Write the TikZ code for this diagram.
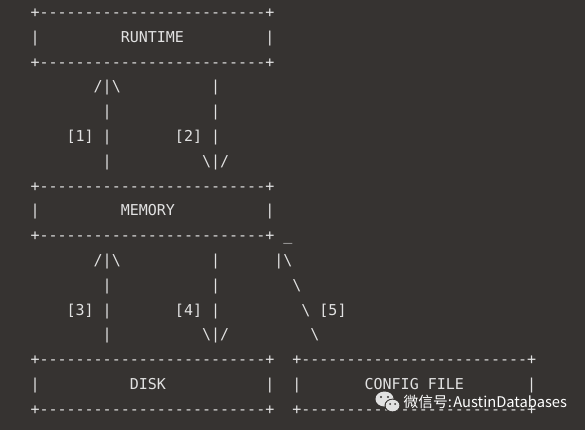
\documentclass[tikz,border=0pt]{standalone}
\usepackage{fontspec}
\setmonofont{DejaVu Sans Mono}
\newfontfamily\cjk{Noto Sans CJK SC}
\definecolor{bgc}{RGB}{54,51,49}
\definecolor{fgc}{RGB}{226,226,226}
\definecolor{logoc}{RGB}{225,225,225}
\newcommand\bs{\textbackslash}
\newcommand\brd{+-------------------------+}
\begin{document}
\begin{tikzpicture}[x=1pt,y=-1pt,
  asc/.style={anchor=base west,inner sep=0pt,outer sep=0pt,text=fgc,font=\ttfamily\fontsize{15}{15}\selectfont},
  wm/.style={anchor=west,inner sep=0pt,text=white,font=\cjk\fontsize{14.7}{14.7}\selectfont}]
\def\xo{30.5}\def\cw{9.03}\def\yo{17.5}\def\ls{24.8}
\newcommand\tk[4]{\node[asc] (#1) at ({\xo+\cw*#2},{\yo+\ls*#3}) {#4};}
\fill[bgc] (0,0) rectangle (585,430);
\useasboundingbox (0,0) rectangle (585,430);
% RUNTIME box
\tk{rt1}{0}{0}{\brd}
\tk{rt2}{0}{1}{|}\tk{rtt}{10}{1}{RUNTIME}\tk{rt3}{26}{1}{|}
\tk{rt4}{0}{2}{\brd}
% arrows 1,2
\tk{a1}{7}{3}{/|\bs}\tk{b1}{20}{3}{|}
\tk{a2}{8}{4}{|}\tk{b2}{20}{4}{|}
\tk{l1}{4}{5}{[1]}\tk{a3}{8}{5}{|}\tk{l2}{16}{5}{[2]}\tk{b3}{20}{5}{|}
\tk{a4}{8}{6}{|}\tk{b4}{19}{6}{\bs|/}
% MEMORY box
\tk{m1}{0}{7}{\brd}
\tk{m2}{0}{8}{|}\tk{mt}{10}{8}{MEMORY}\tk{m3}{26}{8}{|}
\tk{m4}{0}{9}{\brd}\tk{us}{28}{9}{\_}
% arrows 3,4,5
\tk{c1}{7}{10}{/|\bs}\tk{d1}{20}{10}{|}\tk{e1}{27}{10}{|\bs}
\tk{c2}{8}{11}{|}\tk{d2}{20}{11}{|}\tk{e2}{29}{11}{\bs}
\tk{l3}{4}{12}{[3]}\tk{c3}{8}{12}{|}\tk{l4}{16}{12}{[4]}\tk{d3}{20}{12}{|}\tk{e3}{30}{12}{\bs}\tk{l5}{32}{12}{[5]}
\tk{c4}{8}{13}{|}\tk{d4}{19}{13}{\bs|/}\tk{e4}{31}{13}{\bs}
% DISK and CONFIG FILE boxes
\tk{k1}{0}{14}{\brd}\tk{f1}{29}{14}{\brd}
\tk{k2}{0}{15}{|}\tk{kt}{11}{15}{DISK}\tk{k3}{26}{15}{|}
\tk{f2}{29}{15}{|}\tk{ft1}{37}{15}{CONFIG}\tk{ft2}{44}{15}{FILE}\tk{f3}{55}{15}{|}
\tk{k4}{0}{16}{\brd}\tk{f4}{29}{16}{\brd}
% watermark
\fill[logoc] (384.5,399) ellipse (9 and 7.5);
\fill[bgc] (392.5,405.5) ellipse (8 and 6.8);
\fill[logoc] (392.5,405.5) ellipse (6.8 and 5.8);
\fill[bgc] (381,397) circle (1.2) (388,397) circle (1.2) (390,404) circle (1) (395,404) circle (1);
\node[wm] (wmt) at (403.5,402) {微信号:\kern1.5pt AustinDatabases};
\end{tikzpicture}
\end{document}
